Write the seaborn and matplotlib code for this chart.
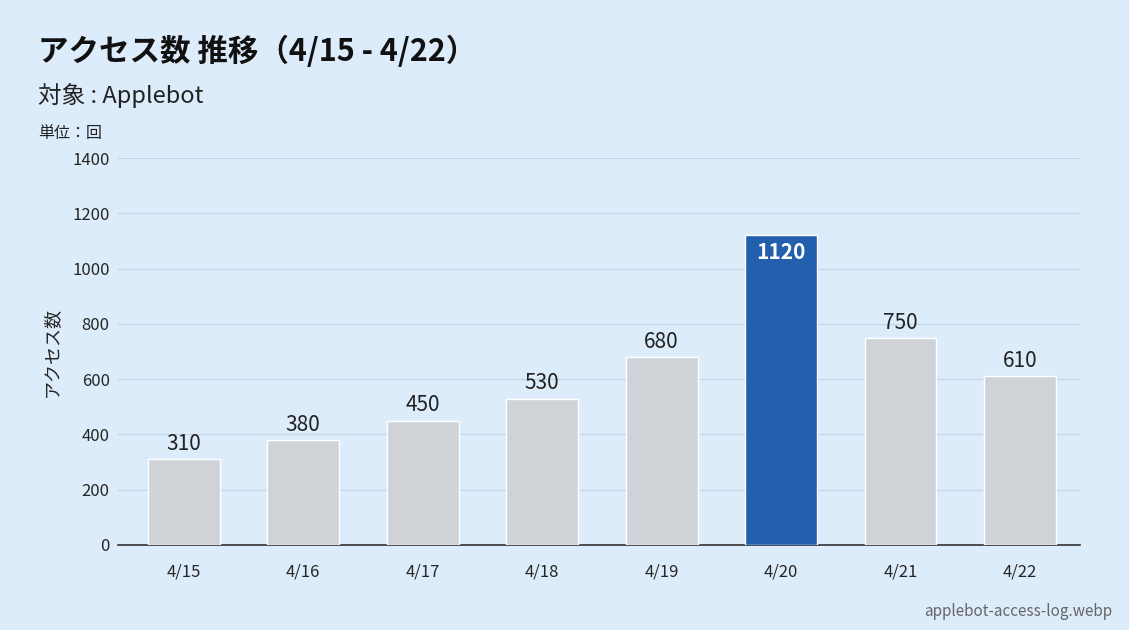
import matplotlib
matplotlib.use("Agg")
import matplotlib.pyplot as plt
import seaborn as sns
import pandas as pd

# Data
dates = ["4/15", "4/16", "4/17", "4/18", "4/19", "4/20", "4/21", "4/22"]
counts = [310, 380, 450, 530, 680, 1120, 750, 610]
highlight = "4/20"

bg = "#ddecfa"
sns.set_style("white")
plt.rcParams['font.family'] = ['Noto Sans CJK JP', 'DejaVu Sans']

df = pd.DataFrame({"date": dates, "count": counts})
colors = ["#0b5cc4" if d == highlight else "#cdd3da" for d in dates]

fig = plt.figure(figsize=(11.29, 6.3), dpi=100, facecolor=bg)
ax = fig.add_axes([0.1045, 0.135, 0.852, 0.614])
ax.set_facecolor(bg)

sns.barplot(data=df, x="date", y="count", hue="date", palette=colors,
            legend=False, width=0.6, ax=ax, zorder=3)

ax.set_ylim(0, 1400)
ax.set_yticks(range(0, 1401, 200))
ax.grid(axis="y", color="#c4d6e6", linewidth=0.9, zorder=0)
for s in ["top", "right", "left"]:
    ax.spines[s].set_visible(False)
ax.spines["bottom"].set_color("#333333")
ax.spines["bottom"].set_linewidth(1.2)
ax.tick_params(axis="x", length=5, color="#333333", labelsize=12, pad=8)
ax.tick_params(axis="y", length=0, labelsize=12, pad=6)
ax.set_xlabel("")
ax.set_ylabel("アクセス数", fontsize=13, labelpad=8)
ax.set_xlim(-0.55, 7.5)

for i, (d, v) in enumerate(zip(dates, counts)):
    if d == highlight:
        ax.text(i, v - 25, f"{v}", ha="center", va="top", fontsize=15,
                fontweight="bold", color="white", zorder=4)
    else:
        ax.text(i, v + 15, f"{v}", ha="center", va="bottom", fontsize=15,
                color="#222222", zorder=4)

fig.text(0.034, 0.917, "アクセス数 推移（4/15 - 4/22）", fontsize=22,
         fontweight="bold", va="center", color="#111111")
fig.text(0.034, 0.849, "対象 : Applebot", fontsize=17, va="center", color="#222222")
fig.text(0.034, 0.788, "単位：回", fontsize=11.5, va="center", color="#222222")
fig.text(0.985, 0.03, "applebot-access-log.webp", fontsize=11, ha="right",
         va="center", color="#666666")

fig.savefig("out.png", dpi=100, facecolor=bg)
